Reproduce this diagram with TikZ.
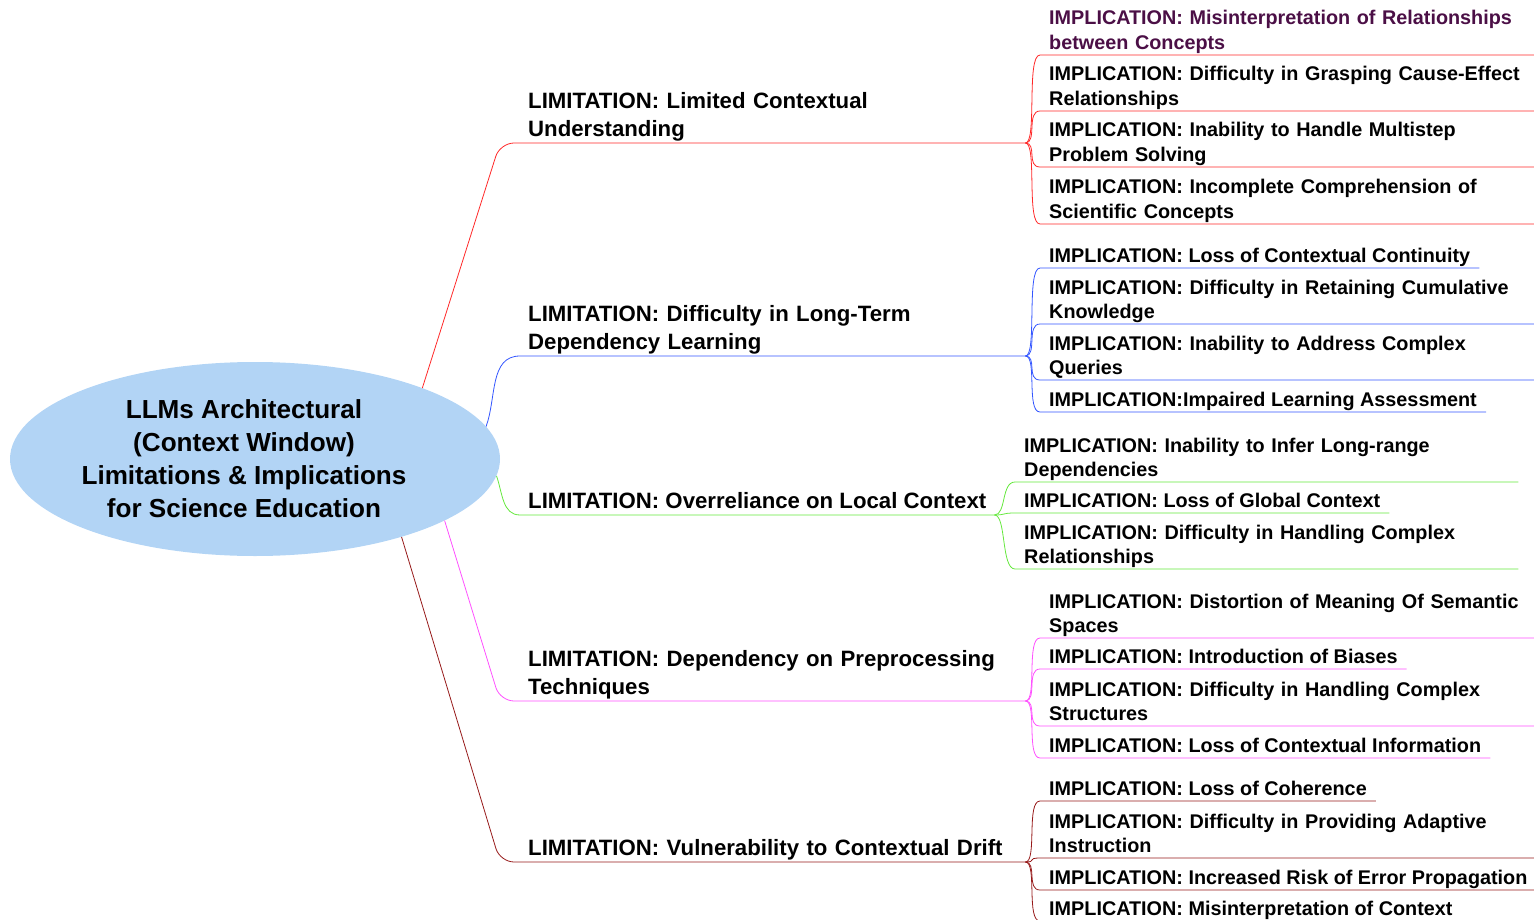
\documentclass[tikz,border=0pt]{standalone}
\usepackage{fontspec}
\setmainfont{Liberation Sans}
\usetikzlibrary{shapes.geometric}
\definecolor{rootblue}{RGB}{178,212,245}
\definecolor{limred}{RGB}{255,40,40}
\definecolor{limblue}{RGB}{50,85,255}
\definecolor{limgreen}{RGB}{100,232,60}
\definecolor{limpink}{RGB}{255,80,255}
\definecolor{limbrown}{RGB}{150,25,25}
\definecolor{implpurple}{RGB}{75,15,70}
\tikzset{
% Central topic, limitation labels and implication labels
root node/.style={ellipse,fill=rootblue,minimum width=490pt,minimum height=194pt,
  align=center,inner sep=0pt,font=\bfseries\fontsize{26.1}{33}\selectfont},
limit node/.style={anchor=south west,align=left,inner xsep=8pt,inner ysep=1.5pt,
  execute at end node={\rule[-5pt]{0pt}{1pt}},font=\bfseries\fontsize{22.2}{27.5}\selectfont},
impl node/.style={anchor=south west,align=left,inner xsep=9pt,inner ysep=1pt,
  execute at end node={\rule[-4.3pt]{0pt}{1pt}},font=\bfseries\fontsize{19.8}{24.5}\selectfont},
wrapped/.style={text width=485pt},
% Thin coloured branch lines
branch/.style={line width=0.8pt}
}
\begin{document}
\begin{tikzpicture}[x=1pt,y=1pt]
  \useasboundingbox (0,0) rectangle (1534,-920);
  % Central topic
  \node[root node] (root) at (255,-459) {\hspace*{-22pt}LLMs Architectural\\\hspace*{-22pt}(Context Window)\\\hspace*{-22pt}Limitations \& Implications\\\hspace*{-22pt}for Science Education};
  % Limitations
  \node[limit node,text width=489pt] (lim1) at (520,-143) {LIMITATION: Limited Contextual\\Understanding};
  \node[limit node,text width=489pt] (lim2) at (520,-356) {LIMITATION: Difficulty in Long-Term\\Dependency Learning};
  \node[limit node] (lim3) at (520,-515) {LIMITATION: Overreliance on Local Context};
  \node[limit node,text width=489pt] (lim4) at (520,-701) {LIMITATION: Dependency on Preprocessing\\Techniques};
  \node[limit node,text width=489pt] (lim5) at (520,-862) {LIMITATION: Vulnerability to Contextual Drift};
  % Branches from the centre
  \draw[branch,limred,rounded corners=14pt] (root.23) -- ([xshift=-20pt]lim1.south west) -- (lim1.south east);
  \draw[branch,limblue] (root.8) to[out=70,in=180] (lim2.south west) -- (lim2.south east);
  \draw[branch,limgreen] (root.-4) to[out=-70,in=180] (lim3.south west) -- (lim3.south east);
  \draw[branch,limpink,rounded corners=14pt] (root.-18) -- ([xshift=-20pt]lim4.south west) -- (lim4.south east);
  \draw[branch,limbrown,rounded corners=14pt] (root.-28) -- ([xshift=-20pt]lim5.south west) -- (lim5.south east);
  % Implications of limitation 1
  \node[impl node,wrapped,text=implpurple] (i11) at (1040,-55) {IMPLICATION: Misinterpretation of Relationships\\between Concepts};
  \node[impl node,wrapped] (i12) at (1040,-111) {IMPLICATION: Difficulty in Grasping Cause-Effect\\Relationships};
  \node[impl node,wrapped] (i13) at (1040,-167) {IMPLICATION: Inability to Handle Multistep\\Problem Solving};
  \node[impl node,wrapped] (i14) at (1040,-224) {IMPLICATION: Incomplete Comprehension of\\Scientific Concepts};
  % Implications of limitation 2
  \node[impl node] (i21) at (1040,-268) {IMPLICATION: Loss of Contextual Continuity};
  \node[impl node,wrapped] (i22) at (1040,-324) {IMPLICATION: Difficulty in Retaining Cumulative\\Knowledge};
  \node[impl node,wrapped] (i23) at (1040,-380) {IMPLICATION: Inability to Address Complex\\Queries};
  \node[impl node] (i24) at (1040,-412) {IMPLICATION:Impaired Learning Assessment};
  % Implications of limitation 3
  \node[impl node,wrapped] (i31) at (1015,-482) {IMPLICATION: Inability to Infer Long-range\\Dependencies};
  \node[impl node] (i32) at (1015,-513) {IMPLICATION: Loss of Global Context};
  \node[impl node,wrapped] (i33) at (1015,-569) {IMPLICATION: Difficulty in Handling Complex\\Relationships};
  % Implications of limitation 4
  \node[impl node,wrapped] (i41) at (1040,-638) {IMPLICATION: Distortion of Meaning Of Semantic\\Spaces};
  \node[impl node] (i42) at (1040,-669) {IMPLICATION: Introduction of Biases};
  \node[impl node,wrapped] (i43) at (1040,-726) {IMPLICATION: Difficulty in Handling Complex\\Structures};
  \node[impl node] (i44) at (1040,-758) {IMPLICATION: Loss of Contextual Information};
  % Implications of limitation 5
  \node[impl node] (i51) at (1040,-801) {IMPLICATION: Loss of Coherence};
  \node[impl node,wrapped] (i52) at (1040,-858) {IMPLICATION: Difficulty in Providing Adaptive\\Instruction};
  \node[impl node] (i53) at (1040,-890) {IMPLICATION: Increased Risk of Error Propagation};
  \node[impl node] (i54) at (1040,-921) {IMPLICATION: Misinterpretation of Context};
  % Sub-branches with underlines
  \foreach \n in {i11,i12,i13,i14}
    \draw[branch,limred] (lim1.south east) .. controls +(12,0) and +(-14,0) .. (\n.south west) -- (\n.south east);
  \foreach \n in {i21,i22,i23,i24}
    \draw[branch,limblue] (lim2.south east) .. controls +(12,0) and +(-14,0) .. (\n.south west) -- (\n.south east);
  \foreach \n in {i31,i32,i33}
    \draw[branch,limgreen] (lim3.south east) .. controls +(12,0) and +(-14,0) .. (\n.south west) -- (\n.south east);
  \foreach \n in {i41,i42,i43,i44}
    \draw[branch,limpink] (lim4.south east) .. controls +(12,0) and +(-14,0) .. (\n.south west) -- (\n.south east);
  \foreach \n in {i51,i52,i53,i54}
    \draw[branch,limbrown] (lim5.south east) .. controls +(12,0) and +(-14,0) .. (\n.south west) -- (\n.south east);
\end{tikzpicture}
\end{document}
